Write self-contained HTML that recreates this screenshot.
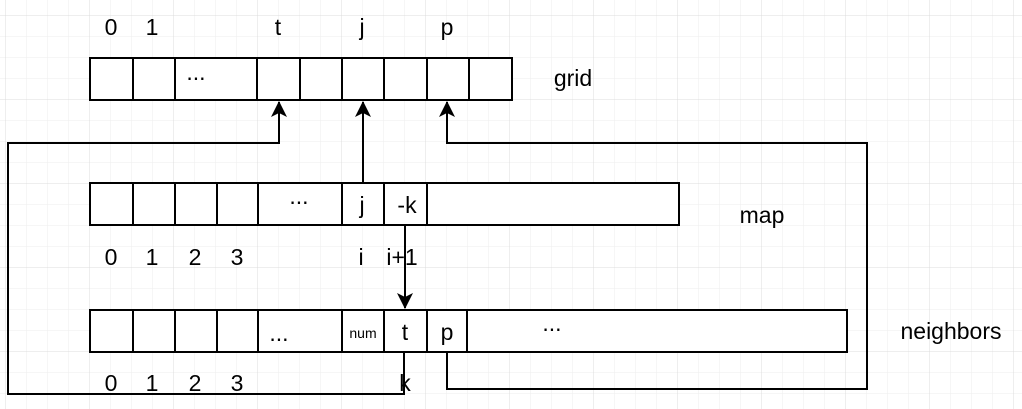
<!DOCTYPE html>
<html><head><style>
html,body{margin:0;padding:0;background:#fff;}
svg{display:block;}
text{font-family:"Liberation Sans",sans-serif;font-size:23px;fill:#000;}
</style></head><body>
<svg width="1022" height="409" viewBox="0 0 1022 409" xmlns="http://www.w3.org/2000/svg">
<defs>
<pattern id="g" x="5" y="15" width="21" height="21" patternUnits="userSpaceOnUse">
<path d="M0 0H21M0 0V21" stroke="#eeeeee" stroke-width="1" fill="none"/>
</pattern>
<pattern id="G" x="5" y="15" width="84" height="84" patternUnits="userSpaceOnUse">
<path d="M0 0H84M0 0V84" stroke="#dcdcdc" stroke-width="1" fill="none"/>
</pattern>
<marker id="a" markerWidth="18" markerHeight="16" refX="15" refY="8" orient="auto" markerUnits="userSpaceOnUse">
<path d="M0 0L16 8L0 16L4 8Z" fill="#000"/>
</marker>
</defs>
<rect width="1022" height="409" fill="url(#g)"/>
<rect width="1022" height="409" fill="url(#G)"/>
<g fill="#fff" stroke="#000" stroke-width="2">
<rect x="90" y="58" width="422" height="42"/>
<rect x="90" y="183" width="589" height="42"/>
<rect x="90" y="310" width="757" height="42"/>
</g>
<g stroke="#000" stroke-width="2" fill="none">
<path d="M133 58V100M175 58V100M257 58V100M300 58V100M342 58V100M384 58V100M427 58V100M469 58V100"/>
<path d="M133 183V225M175 183V225M217 183V225M258 183V225M342 183V225M384 183V225M427 183V225"/>
<path d="M133 310V352M175 310V352M217 310V352M258 310V352M342 310V352M384 310V352M427 310V352M467 310V352"/>
<path d="M404 352V394H8V143H279V102" marker-end="url(#a)"/>
<path d="M363 183V102" marker-end="url(#a)"/>
<path d="M447 352V389H867V143H447V102" marker-end="url(#a)"/>
<path d="M405 225V308" marker-end="url(#a)"/>
</g>
<g text-anchor="middle">
<text x="111" y="35">0</text><text x="152" y="35">1</text><text x="278" y="35">t</text><text x="362" y="35">j</text><text x="447" y="35">p</text>
<text x="196" y="80">...</text>
<text x="573" y="86">grid</text>
<text x="299" y="204">...</text>
<text x="362" y="213">j</text><text x="407" y="213">-k</text>
<text x="762" y="223">map</text>
<text x="111" y="265">0</text><text x="152" y="265">1</text><text x="195" y="265">2</text><text x="237" y="265">3</text>
<text x="361" y="265">i</text><text x="402" y="265">i+1</text>
<text x="279" y="341">...</text>
<text x="363" y="338" style="font-size:14px">num</text>
<text x="405" y="340">t</text><text x="447" y="340">p</text>
<text x="552" y="331">...</text>
<text x="951" y="339">neighbors</text>
<text x="111" y="391">0</text><text x="152" y="391">1</text><text x="195" y="391">2</text><text x="237" y="391">3</text>
<text x="405" y="391">k</text>
</g>
</svg>
</body></html>
